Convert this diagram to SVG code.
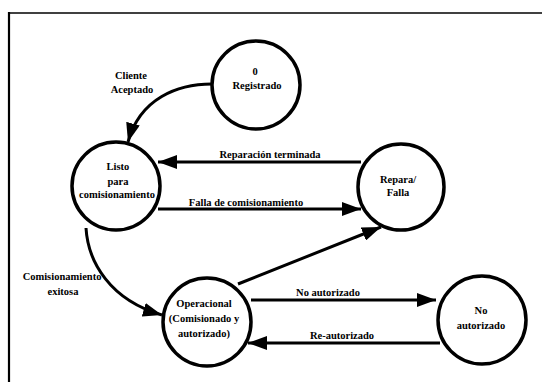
<svg xmlns="http://www.w3.org/2000/svg" width="542" height="382" viewBox="0 0 542 382">
  <style>
    .state { fill: #ffffff; stroke: #000000; stroke-width: 3.5; }
    .edge { fill: none; stroke: #000000; stroke-width: 3; marker-end: url(#head); }
    .lbl { font-family: "Liberation Serif", "Times New Roman", serif; font-weight: bold; font-size: 10.5px; fill: #000000; text-anchor: middle; }
    .frame { fill: none; stroke: #000000; }
  </style>
  <defs>
    <marker id="head" markerUnits="userSpaceOnUse" markerWidth="20" markerHeight="14" refX="19" refY="7" orient="auto">
      <path d="M0,0 L19,7 L0,14 z" fill="#000000"/>
    </marker>
  </defs>

  <rect width="542" height="382" fill="#ffffff"/>

  <!-- page frame: top rule and left rule -->
  <path class="frame" d="M8,13 L542,13" stroke-width="1.5"/>
  <path class="frame" d="M9,12 L9,382" stroke-width="2.2"/>

  <!-- transitions -->
  <g id="connectors">
    <path class="edge" d="M212,84 C178,84 140,98 128,142"/>
    <path class="edge" d="M361,162 L158,162"/>
    <path class="edge" d="M158,209 L361,209"/>
    <path class="edge" d="M86,228 C88,262 110,300 162,315"/>
    <path class="edge" d="M238,284 L381,227"/>
    <path class="edge" d="M251,300 L436,300"/>
    <path class="edge" d="M440,343 L248,343"/>

    <text class="lbl" x="131" y="79">Cliente</text>
    <text class="lbl" x="132" y="93">Aceptado</text>
    <text class="lbl" x="270" y="158">Reparación terminada</text>
    <text class="lbl" x="246" y="206">Falla de comisionamiento</text>
    <text class="lbl" x="62" y="280">Comisionamiento</text>
    <text class="lbl" x="63" y="295">exitosa</text>
    <text class="lbl" x="328" y="296">No autorizado</text>
    <text class="lbl" x="342" y="339">Re-autorizado</text>
  </g>

  <g id="registrado">
    <circle class="state" cx="256" cy="85" r="44"/>
    <text class="lbl" x="255" y="75">0</text>
    <text class="lbl" x="257" y="89">Registrado</text>
  </g>

  <g id="listo">
    <circle class="state" cx="116" cy="186" r="44"/>
    <text class="lbl" x="118" y="170">Listo</text>
    <text class="lbl" x="118" y="185">para</text>
    <text class="lbl" x="117" y="198">comisionamiento</text>
  </g>

  <g id="repara">
    <circle class="state" cx="401" cy="187" r="43"/>
    <text class="lbl" x="398" y="183">Repara/</text>
    <text class="lbl" x="398" y="196">Falla</text>
  </g>

  <g id="operacional">
    <circle class="state" cx="207" cy="322" r="44"/>
    <text class="lbl" x="204" y="307">Operacional</text>
    <text class="lbl" x="204" y="322">(Comisionado y</text>
    <text class="lbl" x="204" y="337">autorizado)</text>
  </g>

  <g id="no-autorizado">
    <circle class="state" cx="482" cy="320" r="44"/>
    <text class="lbl" x="481" y="314">No</text>
    <text class="lbl" x="481" y="329">autorizado</text>
  </g>
</svg>
